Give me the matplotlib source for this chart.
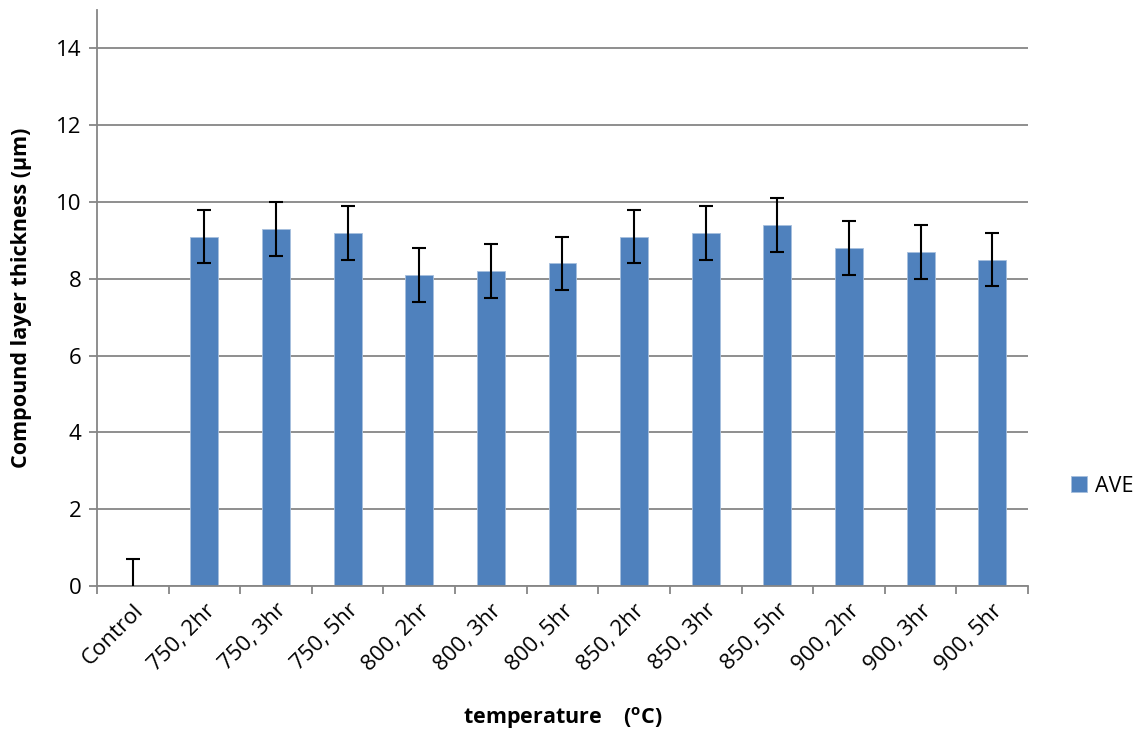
import matplotlib
matplotlib.use("Agg")
import matplotlib.pyplot as plt
import numpy as np

categories = ["Control", "750, 2hr", "750, 3hr", "750, 5hr", "800, 2hr", "800, 3hr",
              "800, 5hr", "850, 2hr", "850, 3hr", "850, 5hr", "900, 2hr", "900, 3hr", "900, 5hr"]
ave = [0.0, 9.1, 9.3, 9.2, 8.1, 8.2, 8.4, 9.1, 9.2, 9.4, 8.8, 8.7, 8.5]
err = [0.7, 0.7, 0.7, 0.7, 0.7, 0.7, 0.7, 0.7, 0.7, 0.7, 0.7, 0.7, 0.7]
yticks = [0, 2, 4, 6, 8, 10, 12, 14]

plt.rcParams['font.family'] = ['Open Sans', 'DejaVu Sans']
plt.rcParams['mathtext.fontset'] = 'custom'
plt.rcParams['mathtext.rm'] = 'Open Sans'
plt.rcParams['mathtext.bf'] = 'Open Sans:bold'

fig = plt.figure(figsize=(11.42, 7.36), dpi=100)
ax = fig.add_axes([0.0849, 0.2038, 0.9002 - 0.0849, 0.9864 - 0.2038])

x = np.arange(len(categories))
grid_c = '#868686'
ax.set_ylim(0, 15)
ax.set_xlim(-0.5, len(categories) - 0.5)
ax.set_yticks(yticks)
ax.yaxis.grid(True, color=grid_c, linewidth=1.3)
ax.set_axisbelow(True)

bars = ax.bar(x, ave, width=0.39, color='#4F81BD', edgecolor='#A7BFDE', linewidth=0.6,
              label='AVE', zorder=2)
ax.errorbar(x, ave, yerr=err, fmt='none', ecolor='black', elinewidth=1.5,
            capsize=4.8, capthick=1.5, zorder=3)

for s in ['top', 'right']:
    ax.spines[s].set_visible(False)
for s in ['left', 'bottom']:
    ax.spines[s].set_color(grid_c)
    ax.spines[s].set_linewidth(1.3)

ax.tick_params(axis='y', length=6, width=1.3, color=grid_c, labelsize=16, pad=5)
ax.set_xticks(np.arange(-0.5, len(categories), 1.0))
ax.set_xticklabels([])
ax.tick_params(axis='x', which='major', length=6, width=1.3, color=grid_c)
ax.set_xticks(x, minor=True)
ax.set_xticklabels(categories, minor=True, rotation=45, ha='right',
                   rotation_mode='anchor', fontsize=16)
ax.tick_params(axis='x', which='minor', length=0, pad=10)

ax.set_ylabel('Compound layer thickness (µm)', fontsize=15.5, fontweight='bold', labelpad=12)
ax.set_xlabel(r'temperature    ($\mathbf{^{o}}$C)', fontsize=15.5, fontweight='bold')
ax.xaxis.set_label_coords(0.5, -0.207)
ax.yaxis.set_label_coords(-0.07, 0.5)

fig.legend(handles=[bars], labels=['AVE'], loc='center left',
           bbox_to_anchor=(0.928, 1 - 486 / 736), frameon=False, fontsize=15.5,
           handlelength=0.75, handleheight=0.75, handletextpad=0.4, borderpad=0)

fig.savefig('out.png', dpi=100)
